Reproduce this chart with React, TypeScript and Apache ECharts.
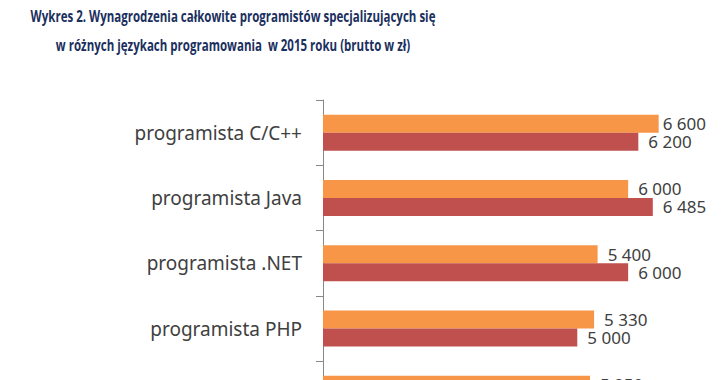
import React, { useEffect, useRef } from "react";
import * as echarts from "echarts";

const titleLines = [
  "Wykres 2. Wynagrodzenia całkowite programistów specjalizujących się",
  "w różnych językach programowania  w 2015 roku (brutto w zł)",
];
const categories = [
  "programista C/C++",
  "programista Java",
  "programista .NET",
  "programista PHP",
  "",
];
const seriesOrange = [6600, 6000, 5400, 5330, 5250];
const seriesRed: (number | null)[] = [6200, 6485, 6000, 5000, null];

const fmt = (v: number) => {
  const s = String(Math.round(v));
  return s.replace(/\B(?=(\d{3})+(?!\d))/g, " ");
};

export default function App() {
  const ref = useRef<HTMLDivElement>(null);
  useEffect(() => {
    document.body.style.margin = "0";
    document.body.style.overflow = "hidden";
    const chart = echarts.init(ref.current!, undefined, { renderer: "svg" });
    const labelCfg = {
      show: true,
      position: "right" as const,
      distance: 10,
      color: "#404040",
      fontFamily: "Noto Sans",
      fontSize: 17,
      lineHeight: 16,
      formatter: (p: any) => fmt(p.value),
    };
    const orangeData = seriesOrange.map((v, i) =>
      i === 0 ? { value: v, label: { distance: 4 } } : v
    );
    chart.setOption({
      animation: false,
      backgroundColor: "#ffffff",
      graphic: titleLines.map((t, i) => ({
        type: "text",
        x: 233,
        y: 16 + i * 29,
        scaleX: 0.72,
        style: {
          text: t,
          fill: "#1B2F5E",
          font: "bold 16px 'Open Sans'",
          textAlign: "center",
          textVerticalAlign: "middle",
        },
      })),
      grid: { left: 323, top: 100, width: 356, height: 326.5 },
      xAxis: {
        type: "value",
        min: 0,
        max: 7000,
        show: false,
      },
      yAxis: {
        type: "category",
        data: categories,
        inverse: true,
        axisLine: { show: true, lineStyle: { color: "#888888", width: 1 } },
        axisTick: { show: true, length: 7, lineStyle: { color: "#888888" } },
        axisLabel: {
          margin: 21,
          color: "#404040",
          fontFamily: "Noto Sans",
          fontSize: 19,
        },
        splitLine: { show: false },
      },
      series: [
        {
          type: "bar",
          data: orangeData,
          barWidth: 18,
          barGap: "0%",
          itemStyle: { color: "#F79646" },
          label: labelCfg,
        },
        {
          type: "bar",
          data: seriesRed,
          barWidth: 18,
          barGap: "0%",
          itemStyle: { color: "#C0504D" },
          label: labelCfg,
        },
      ],
    });
    return () => chart.dispose();
  }, []);
  return (
    <div style={{ width: 721, height: 380, overflow: "hidden" }}>
      <div ref={ref} style={{ width: 721, height: 440 }} />
    </div>
  );
}
